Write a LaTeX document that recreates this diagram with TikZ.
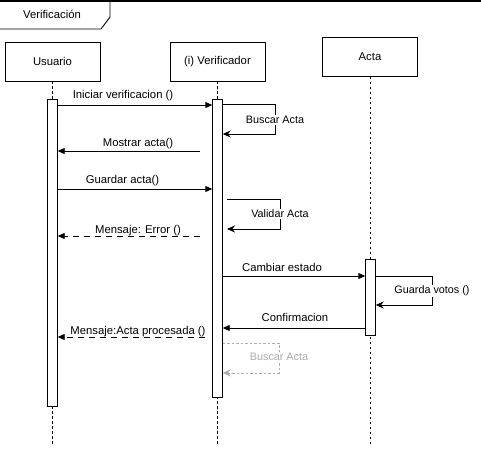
\documentclass[tikz,border=0pt]{standalone}
\usepackage{fontspec}
\setmainfont{Liberation Sans}
\usetikzlibrary{arrows.meta}

\begin{document}
\begin{tikzpicture}[
    x=1pt, y=-1pt,
    font=\fontsize{11.3}{13}\selectfont,
    header/.style={
        draw,
        line width=0.9pt,
        rectangle,
        minimum width=95pt,
        minimum height=39pt,
        inner sep=0pt
    },
    activation/.style={
        draw,
        fill=white,
        line width=0.9pt,
        rectangle,
        minimum width=9.5pt,
        inner sep=0pt,
        anchor=north
    },
    lifeline/.style={line width=0.9pt, dash pattern=on 2.5pt off 2.5pt},
    msg/.style={line width=0.9pt, -{Triangle[length=7pt,width=6pt]}},
    reply/.style={msg, dash pattern=on 6pt off 5pt},
    selfmsg/.style={line width=0.9pt, -{Stealth[length=8pt,width=7pt]}},
    selflabel/.style={fill=white, inner sep=1pt, font=\fontsize{10.8}{12}\selectfont},
    ghost/.style={gray!65, dash pattern=on 2.5pt off 2pt}
]
    \useasboundingbox (0,0) rectangle (481,466);

    % Marco del diagrama
    \draw[line width=1.2pt] (0,1) -- (481,1);
    \draw[line width=0.9pt] (110,1) -- (110,17) -- (101,29) -- (0,29);
    \node (framelabel) at (52,14) {Verificación};

    % Cabeceras de los participantes
    \node[header] (usuario) at (52.5,61.5) {Usuario};
    \node[header] (verificador) at (217.5,61.5) {(i) Verificador};
    \node[header] (acta) at (370,57) {Acta};

    % Lineas de vida
    \coordinate (usuarioEnd) at (52.5,445);
    \coordinate (verificadorEnd) at (217.5,445);
    \coordinate (actaEnd) at (370,445);
    \draw[lifeline] (usuario.south) -- (usuarioEnd);
    \draw[lifeline] (verificador.south) -- (verificadorEnd);
    \draw[lifeline] (acta.south) -- (actaEnd);

    % Barras de activacion
    \node[activation, minimum height=307pt] (usrAct) at (52.5,99) {};
    \node[activation, minimum height=298pt] (verAct) at (217.5,99) {};
    \node[activation, minimum height=76pt] (actaAct) at (370.5,259) {};

    % Iniciar verificacion
    \draw[msg] (usrAct.east |- 0,105) -- (verAct.west |- 0,105);
    \node (iniciar) at (123,96) {Iniciar verificacion ()};

    % Buscar Acta
    \draw[selfmsg] (verAct.east |- 0,104) -| (275,134) -- (verAct.east |- 0,134);
    \node[selflabel] (buscar) at (275,120) {Buscar Acta};

    % Mostrar acta
    \coordinate (mostrarFrom) at (200,151);
    \draw[msg] (mostrarFrom) -- (usrAct.east |- mostrarFrom);
    \node (mostrar) at (138,144) {Mostrar acta()};

    % Guardar acta
    \draw[msg] (usrAct.east |- 0,189) -- (verAct.west |- 0,189);
    \node (guardar) at (122.5,181) {Guardar acta()};

    % Validar Acta
    \coordinate (validarFrom) at (227,199);
    \coordinate (validarTo) at (227,229);
    \draw[selfmsg] (validarFrom) -| (280,229) -- (validarTo);
    \node[selflabel] (validar) at (280,214) {Validar Acta};

    % Mensaje de error
    \coordinate (errorFrom) at (200,236);
    \draw[reply] (errorFrom) -- (usrAct.east |- errorFrom);
    \node (error) at (138,230.5) {Mensaje: Error ()};

    % Cambiar estado
    \draw[msg] (verAct.east |- 0,276) -- (actaAct.west |- 0,276);
    \node (cambiar) at (282,267) {Cambiar estado};

    % Guarda votos
    \draw[selfmsg] (actaAct.east |- 0,276) -| (432,305) -- (actaAct.east |- 0,305);
    \node[selflabel] (guarda) at (432,291) {Guarda votos ()};

    % Confirmacion
    \draw[msg] (actaAct.west |- 0,328) -- (verAct.east |- 0,328);
    \node (confirmacion) at (295,317) {Confirmacion};

    % Acta procesada
    \coordinate (procesadaFrom) at (205,337);
    \draw[reply] (procesadaFrom) -- (usrAct.east |- procesadaFrom);
    \node (procesada) at (138,331.5) {Mensaje:Acta procesada ()};

    % Buscar Acta (gris)
    \draw[selfmsg, ghost] (verAct.east |- 0,343) -| (279,373) -- (verAct.east |- 0,373);
    \node[selflabel, text=gray!65] (buscarGris) at (279,357) {Buscar Acta};

\end{tikzpicture}
\end{document}
